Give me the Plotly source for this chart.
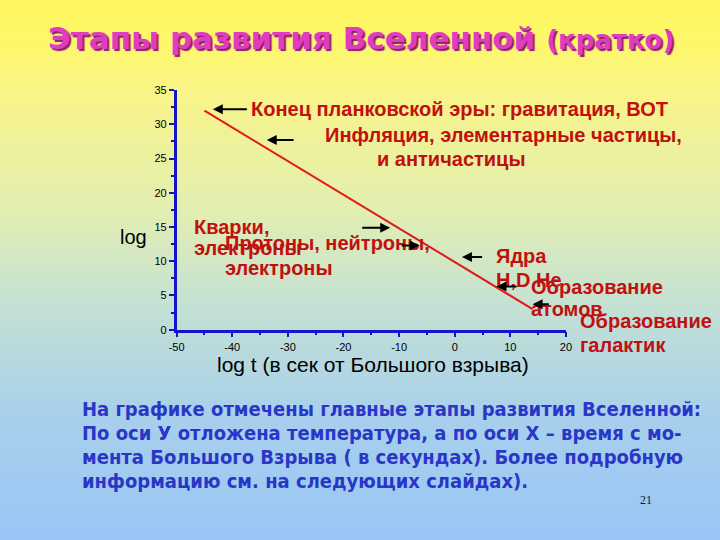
import base64
import struct
import zlib
import plotly.graph_objects as go

# ---- data ----
line_x = [-45, 14]          # log t
line_y = [32, 3]            # log T

x_ticks = [-50, -40, -30, -20, -10, 0, 10, 20]
y_ticks = [0, 5, 10, 15, 20, 25, 30, 35]

label_text = ["Конец планковской эры: гравитация, ВОТ",
              "Инфляция, элементарные частицы,",
              "и античастицы",
              "Кварки,",
              "электроны",
              "Протоны, нейтроны,",
              "электроны",
              "Ядра",
              "H,D He",
              "Образование",
              "атомов",
              "Образование",
              "галактик"]
label_x = [-36.3, -23.0, -13.7, -46.5, -46.5, -41.0, -41.0, 7.8, 7.8, 14.0, 14.0, 22.8, 22.8]
label_y = [32.3, 28.4, 25.0, 15.0, 11.9, 12.6, 9.0, 10.7, 7.3, 6.3, 3.0, 1.3, -2.3]

# arrows: head x, tail x, y
arrow_head_x = [-43.5, -33.8, -11.6, -6.3, 1.3, 7.5, 14.0]
arrow_tail_x = [-37.1, -28.7, -16.9, -9.8, 5.2, 11.4, 17.2]
arrow_y = [32.2, 27.7, 14.9, 12.3, 10.6, 6.3, 3.7]

body_lines = ["На графике отмечены главные этапы развития Вселенной:",
              "По оси У отложена температура, а по оси Х – время с мо-",
              "мента Большого Взрыва ( в секундах). Более подробную",
              "информацию см. на следующих слайдах)."]

# ---- axes geometry ----
X_RANGE = [-50, 20]
Y_RANGE = [0, 35]
X_DOM = [172 / 720, 569 / 720]
Y_DOM = [1 - 331 / 540, 1 - 86 / 540]


def to_paper_x(v):
    return X_DOM[0] + (v - X_RANGE[0]) / (X_RANGE[1] - X_RANGE[0]) * (X_DOM[1] - X_DOM[0])


def to_paper_y(v):
    return Y_DOM[0] + (v - Y_RANGE[0]) / (Y_RANGE[1] - Y_RANGE[0]) * (Y_DOM[1] - Y_DOM[0])


# ---- background gradient image (top -> bottom) ----
grad_stops = [(0.0, "#fff75c"), (0.1, "#fef768"), (0.2, "#f8f48a"), (0.4, "#e2eeb2"),
              (0.55, "#c6e2d2"), (0.75, "#a8d0ec"), (1.0, "#96c4f8")]


def _hex(c):
    return tuple(int(c[i:i + 2], 16) for i in (1, 3, 5))


def _color_at(t):
    for (t0, c0), (t1, c1) in zip(grad_stops[:-1], grad_stops[1:]):
        if t <= t1:
            f = (t - t0) / (t1 - t0) if t1 > t0 else 0
            a, b = _hex(c0), _hex(c1)
            return tuple(int(round(a[k] + (b[k] - a[k]) * f)) for k in range(3))
    return _hex(grad_stops[-1][1])


H, W = 540, 4
raw = b""
for r in range(H):
    px = bytes(_color_at(r / (H - 1)))
    raw += b"\x00" + px * W


def _chunk(tag, data):
    return struct.pack(">I", len(data)) + tag + data + struct.pack(">I", zlib.crc32(tag + data) & 0xffffffff)


png = (b"\x89PNG\r\n\x1a\n" + _chunk(b"IHDR", struct.pack(">IIBBBBB", W, H, 8, 2, 0, 0, 0))
       + _chunk(b"IDAT", zlib.compress(raw)) + _chunk(b"IEND", b""))
bg_uri = "data:image/png;base64," + base64.b64encode(png).decode()

fig = go.Figure()
fig.add_trace(go.Scatter(x=line_x, y=line_y, mode="lines",
                         line=dict(color="#e01818", width=2),
                         showlegend=False, hoverinfo="skip"))

tickfont = dict(family="Liberation Sans Narrow, Arial Narrow, Liberation Sans, sans-serif",
                size=11, color="black")
axis_blue = "#1414c8"

ann = []
for t, x, y in zip(label_text, label_x, label_y):
    ann.append(dict(text=t, x=to_paper_x(x), y=to_paper_y(y), xref="paper", yref="paper",
                    xanchor="left", yanchor="middle",
                    showarrow=False, xshift=-4,
                    font=dict(family="Liberation Sans, Arial, sans-serif", size=20,
                              color="#c01010", weight="bold")))
for hx, tx, y in zip(arrow_head_x, arrow_tail_x, arrow_y):
    ann.append(dict(text="", x=hx, y=y, ax=tx, ay=y, xref="x", yref="y",
                    axref="x", ayref="y", showarrow=True, arrowhead=2,
                    arrowsize=1, arrowwidth=2, arrowcolor="black"))

ann.append(dict(text="Этапы развития Вселенной <span style='font-size:26px'>(кратко)</span>",
                x=360 / 720, y=1 - 33 / 540, xref="paper", yref="paper",
                xanchor="center", yanchor="middle", showarrow=False,
                font=dict(family="DejaVu Sans, sans-serif", size=31, color="#e03cc0",
                          weight="bold", shadow="2px 2px 1px #8a2070")))
ann.append(dict(text="log t (в сек от Большого взрыва)", x=372 / 720, y=1 - 367 / 540,
                xref="paper", yref="paper", xanchor="center", yanchor="middle",
                showarrow=False,
                font=dict(family="Liberation Sans, Arial, sans-serif", size=21, color="black")))
ann.append(dict(text="log", x=128 / 720, y=1 - 236 / 540, xref="paper", yref="paper",
                xanchor="center", yanchor="middle", showarrow=False,
                font=dict(family="Liberation Sans, Arial, sans-serif", size=20, color="black")))
for i, ln in enumerate(body_lines):
    ann.append(dict(text=ln, x=78 / 720, y=1 - (412 + 24.5 * i) / 540,
                    xref="paper", yref="paper", xanchor="left", yanchor="middle",
                    showarrow=False, xshift=-4,
                    font=dict(family="DejaVu Sans Condensed, DejaVu Sans, sans-serif", size=20,
                              color="#2a36c8", weight="bold")))
ann.append(dict(text="21", x=651 / 720, y=1 - 505 / 540, xref="paper", yref="paper",
                xanchor="center", yanchor="middle", showarrow=False,
                font=dict(family="Liberation Serif, Times New Roman, serif", size=12,
                          color="#101840")))

fig.update_layout(
    width=720, height=540, autosize=False,
    margin=dict(l=0, r=0, t=0, b=0),
    paper_bgcolor="#e2eeb2", plot_bgcolor="rgba(0,0,0,0)",
    showlegend=False,
    images=[dict(source=bg_uri, xref="paper", yref="paper", x=-0.05, y=1.05,
                 sizex=1.1, sizey=1.1, sizing="stretch", xanchor="left", yanchor="top",
                 layer="below")],
    xaxis=dict(domain=X_DOM, range=X_RANGE,
               tickvals=x_ticks, ticktext=[str(v) for v in x_ticks],
               ticks="outside", ticklen=5, tickwidth=2, tickcolor=axis_blue,
               minor=dict(dtick=5, tick0=0, ticks="outside", ticklen=3, tickwidth=2,
                          tickcolor=axis_blue),
               showline=True, linecolor=axis_blue, linewidth=2.5,
               showgrid=False, zeroline=False, tickfont=tickfont),
    yaxis=dict(domain=Y_DOM, range=Y_RANGE,
               tickvals=y_ticks, ticktext=[str(v) for v in y_ticks],
               ticks="outside", ticklen=5, tickwidth=2, tickcolor=axis_blue,
               minor=dict(dtick=2.5, tick0=0, ticks="outside", ticklen=3, tickwidth=2,
                          tickcolor=axis_blue),
               showline=True, linecolor=axis_blue, linewidth=2.5,
               showgrid=False, zeroline=False, tickfont=tickfont),
    annotations=ann,
)

fig.write_html("out.html", config={"displayModeBar": False},
               post_script="document.body.style.margin='0';document.body.style.padding='0';")
